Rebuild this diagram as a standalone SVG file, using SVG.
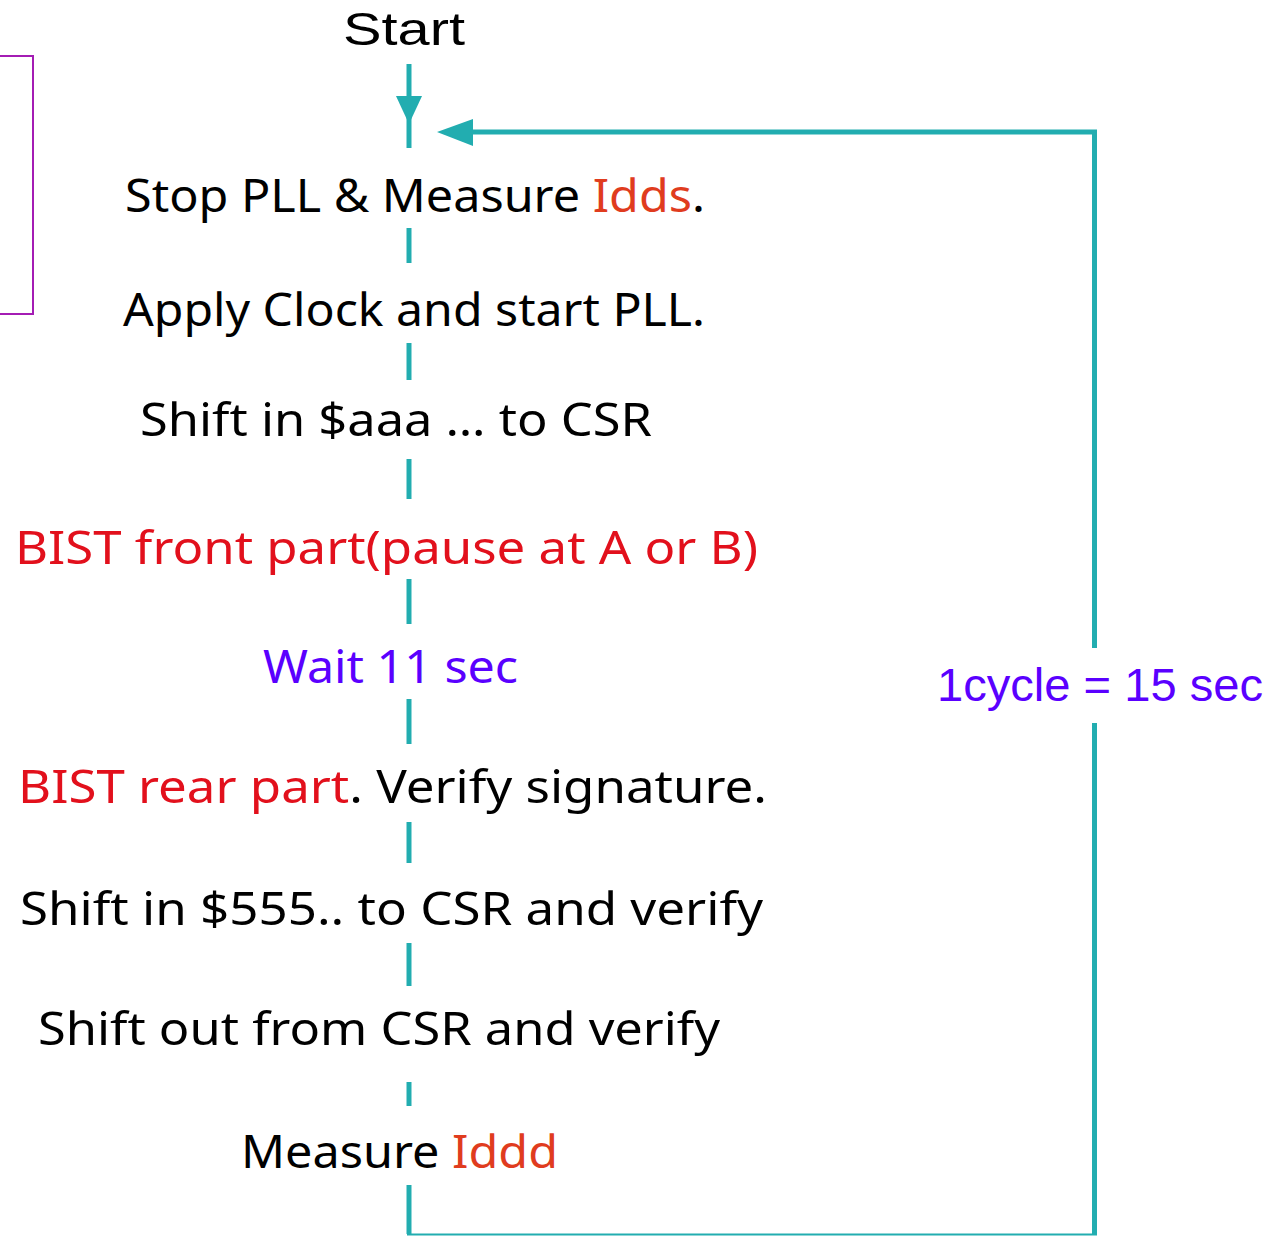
<svg xmlns="http://www.w3.org/2000/svg" width="1283" height="1236" viewBox="0 0 1283 1236">
<style>
text{font-family:"Noto Sans","Liberation Sans",sans-serif;font-size:46px;fill:#000}
.red{fill:#e2101c}
.org{fill:#e03c1e}
.pur{fill:#5a00ff}
.ln{stroke:#22adb0;stroke-width:5;fill:none}
</style>
<rect x="-10" y="56" width="43" height="258" fill="none" stroke="#a41cb4" stroke-width="2"/>
<g id="connectors">
<line class="ln" x1="409" y1="64" x2="409" y2="148"/>
<path d="M396,96 L422,96 L409,124 Z" fill="#22adb0"/>
<line class="ln" x1="409" y1="228" x2="409" y2="263"/>
<line class="ln" x1="409" y1="343" x2="409" y2="380"/>
<line class="ln" x1="409" y1="459" x2="409" y2="499"/>
<line class="ln" x1="409" y1="579" x2="409" y2="624"/>
<line class="ln" x1="409" y1="699" x2="409" y2="744"/>
<line class="ln" x1="409" y1="822" x2="409" y2="863"/>
<line class="ln" x1="409" y1="943" x2="409" y2="986"/>
<line class="ln" x1="409" y1="1082" x2="409" y2="1106"/>
<line class="ln" x1="409" y1="1185" x2="409" y2="1234"/>
<line x1="407" y1="1234.5" x2="1097" y2="1234.5" stroke="#22adb0" stroke-width="2"/>
<line class="ln" x1="1094.5" y1="1235" x2="1094.5" y2="723"/>
<line class="ln" x1="1094.5" y1="648" x2="1094.5" y2="132"/>
<path d="M1097,132 L460,132" class="ln"/>
<path d="M437,132 L473,119 L473,146 Z" fill="#22adb0"/>
</g>
<g id="n-start"><text x="343" y="45" textLength="122" lengthAdjust="spacingAndGlyphs" style="font-family:'Liberation Sans',sans-serif">Start</text></g>
<g id="n-stop"><text x="125" y="212" textLength="580" lengthAdjust="spacingAndGlyphs">Stop PLL &amp; Measure <tspan class="org">Idds</tspan>.</text></g>
<g id="n-apply"><text x="123" y="326" textLength="582" lengthAdjust="spacingAndGlyphs">Apply Clock and start PLL.</text></g>
<g id="n-shiftaaa"><text x="140" y="436" textLength="512" lengthAdjust="spacingAndGlyphs">Shift in $aaa … to CSR</text></g>
<g id="n-bistfront"><text class="red" x="15" y="564" textLength="743" lengthAdjust="spacingAndGlyphs">BIST front part(pause at A or B)</text></g>
<g id="n-wait"><text class="pur" x="263" y="683" textLength="255" lengthAdjust="spacingAndGlyphs">Wait 11 sec</text></g>
<g id="n-bistrear"><text x="18" y="803" textLength="749" lengthAdjust="spacingAndGlyphs"><tspan class="red">BIST rear part</tspan>. Verify signature.</text></g>
<g id="n-shift555"><text x="20" y="925" textLength="743" lengthAdjust="spacingAndGlyphs">Shift in $555.. to CSR and verify</text></g>
<g id="n-shiftout"><text x="38" y="1045" textLength="682" lengthAdjust="spacingAndGlyphs">Shift out from CSR and verify</text></g>
<g id="n-measure"><text x="241" y="1168" textLength="317" lengthAdjust="spacingAndGlyphs">Measure <tspan class="org">Iddd</tspan></text></g>
<g id="n-cycle"><text class="pur" x="937" y="701" textLength="326" lengthAdjust="spacingAndGlyphs" style="font-family:'Liberation Sans',sans-serif">1cycle = 15 sec</text></g>
</svg>
